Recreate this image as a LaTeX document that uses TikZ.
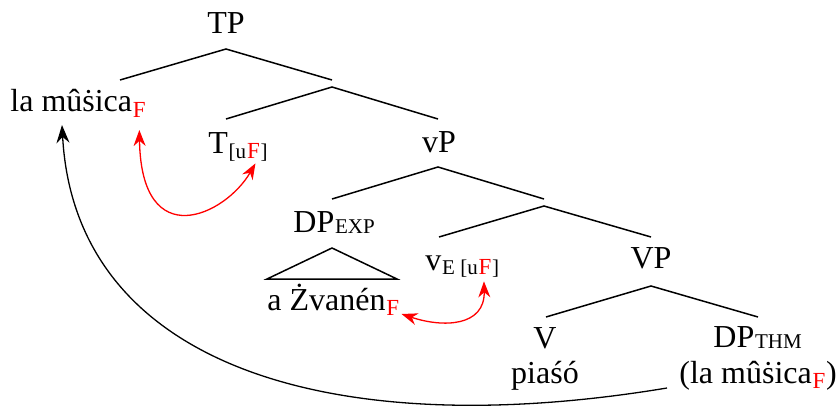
\documentclass[tikz,border=0pt]{standalone}
\usepackage{fontspec}
\setmainfont{Liberation Serif}
\usetikzlibrary{arrows.meta}
\begin{document}
\begin{tikzpicture}[x=0.5pt,y=-0.5pt,
  lbl/.style={inner sep=0pt, font=\fontsize{16}{18}\selectfont},
  subl/.style={inner sep=0pt, font=\fontsize{10.5}{12}\selectfont},
  feat/.style={inner sep=0pt, font=\fontsize{11.5}{12}\selectfont, text=red},
  branch/.style={line width=0.75pt},
  redarr/.style={red, line width=0.65pt, {Stealth[length=8pt,width=6pt,inset=2.6pt]}-{Stealth[length=8pt,width=6pt,inset=2.6pt]}},
  movarr/.style={black, line width=0.65pt, -{Stealth[length=9pt,width=6.5pt,inset=3pt]}}
]
\useasboundingbox (0,0) rectangle (836,407);

% labels
\node[lbl, anchor=base] (tp) at (226,33) {TP};
\node[lbl, anchor=base west] (mus) at (10,112) {la mûṡica};
\node[feat, anchor=base west] (musF) at ([yshift=-2.8pt]mus.base east) {F};

\node[lbl, anchor=base west] (t) at (208,153) {T};
\node[subl, anchor=base west] (tsubA) at ([yshift=-2.5pt]t.base east) {[u};
\node[feat, anchor=base west] (tF) at (tsubA.base east) {F};
\node[subl, anchor=base west] (tsubB) at (tF.base east) {]};

\node[lbl, anchor=base] (vp) at (439,152) {vP};

\node[lbl, anchor=base west] (dpexp) at (293,232) {DP};
\node[subl, anchor=base west] (exp) at ([yshift=-0.8pt]dpexp.base east) {EXP};
\node[lbl, anchor=base west] (zv) at (267,310) {a Żvanén};
\node[feat, anchor=base west] (zF) at ([yshift=-2.8pt]zv.base east) {F};

\node[lbl, anchor=base west] (v) at (425,270) {v};
\node[subl, anchor=base west] (vsubA) at ([yshift=-2pt]v.base east) {E [u};
\node[feat, anchor=base west] (vF) at (vsubA.base east) {F};
\node[subl, anchor=base west] (vsubB) at (vF.base east) {]};

\node[lbl, anchor=base] (bigvp) at (651,268) {VP};
\node[lbl, anchor=base] (vv) at (545,348) {V};
\node[lbl, anchor=base] (pia) at (545,383) {piaśó};

\node[lbl, anchor=base west] (dpthm) at (713,347) {DP};
\node[subl, anchor=base west] (thm) at ([yshift=-0.8pt]dpthm.base east) {THM};
\node[lbl, anchor=base west] (mus2) at (679,383) {(la mûṡica};
\node[feat, anchor=base west] (mus2F) at ([yshift=-2.8pt]mus2.base east) {F};
\node[lbl, anchor=base west] (mus2B) at ([yshift=2.8pt]mus2F.base east) {)};

% branch points
\coordinate (tpA) at (226,49);  \coordinate (tpL) at (120,80);  \coordinate (tpR) at (332,80);
\coordinate (tbA) at (332,87);  \coordinate (tbL) at (226,119); \coordinate (tbR) at (438,119);
\coordinate (vpA) at (438,167); \coordinate (vpL) at (332,199); \coordinate (vpR) at (544,199);
\coordinate (vbA) at (544,206); \coordinate (vbL) at (439,237); \coordinate (vbR) at (651,237);
\coordinate (VPA) at (651,286); \coordinate (VPL) at (546,317); \coordinate (VPR) at (758,317);
\coordinate (triA) at (332,248); \coordinate (triL) at (267,279); \coordinate (triR) at (397,279);

\draw[branch] (tpL) -- (tpA) -- (tpR);
\draw[branch] (tbL) -- (tbA) -- (tbR);
\draw[branch] (vpL) -- (vpA) -- (vpR);
\draw[branch] (vbL) -- (vbA) -- (vbR);
\draw[branch] (VPL) -- (VPA) -- (VPR);
\draw[branch] (triL) -- (triA) -- (triR) -- cycle;

% agreement arrows
\draw[redarr] ([yshift=-6pt]musF.south) .. controls +(2,125) and +(-30,52) .. ([shift={(1pt,-2.5pt)}]tF.south);
\draw[redarr] ([shift={(1pt,1pt)}]zF.south east) .. controls +(42,14) and +(1,45) .. ([shift={(-0.5pt,-3.5pt)}]vF.south);

% movement arrow
\draw[movarr] ([shift={(-6pt,-2.5pt)}]mus2.base west) .. controls +(-337,56) and +(13,240) .. ([shift={(26pt,-6.5pt)}]mus.base west);
\end{tikzpicture}
\end{document}
